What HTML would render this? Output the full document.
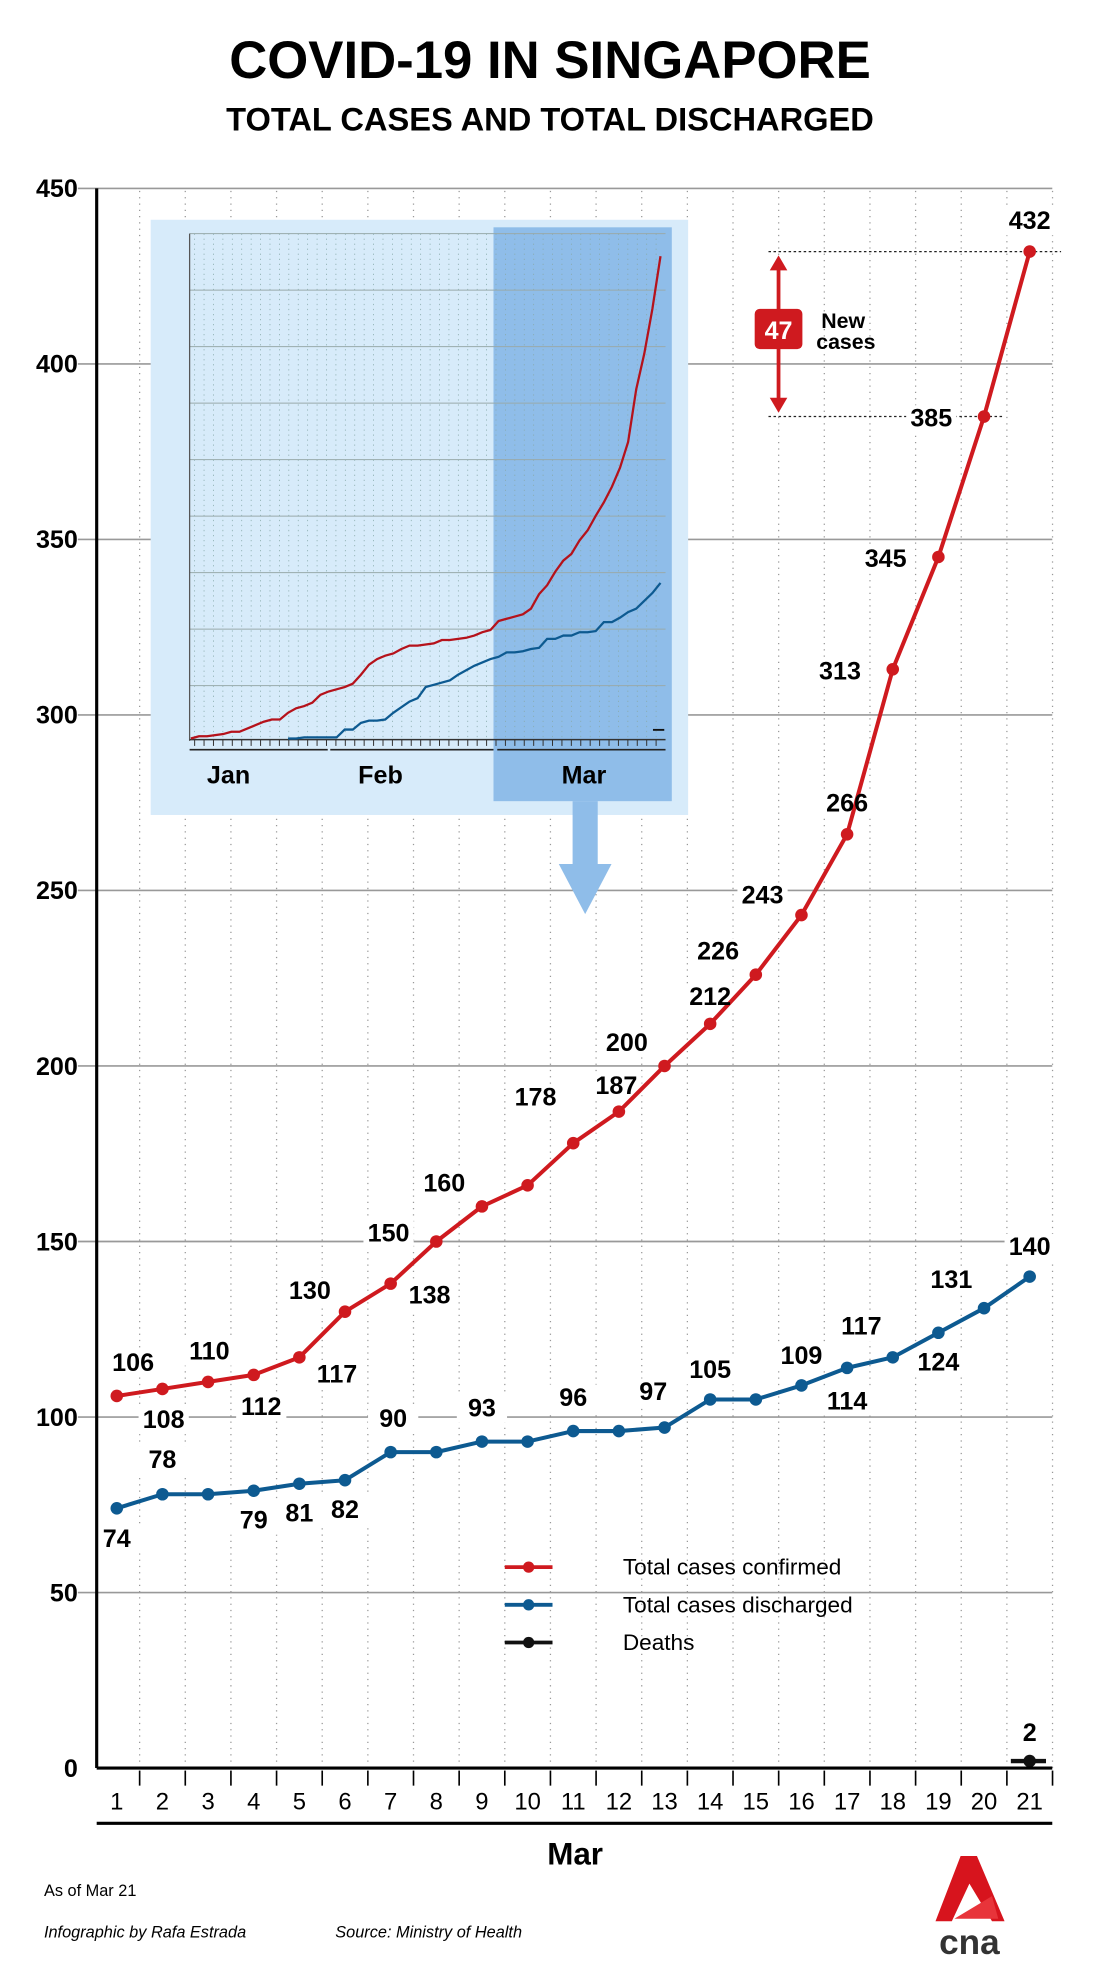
<!DOCTYPE html>
<html><head><meta charset="utf-8"><style>
html,body{margin:0;padding:0;background:#fff;}
svg{display:block;font-family:"Liberation Sans",sans-serif;}
</style></head><body>
<svg id="chart" width="1100" height="1969" viewBox="0 0 876 1568" xmlns="http://www.w3.org/2000/svg">
<text x="438" y="62" text-anchor="middle" font-size="42" font-weight="bold">COVID-19 IN SINGAPORE</text>
<text x="438" y="104" text-anchor="middle" font-size="26" font-weight="bold">TOTAL CASES AND TOTAL DISCHARGED</text>
<g id="grid"></g>
<g id="inset"></g>
<g id="annot"></g>
<g id="labelbg"></g>
<g id="series"></g>
<g id="labels"></g>
<g id="axes"></g>
<g id="legend"></g>
<text x="458" y="1485" text-anchor="middle" font-size="25" font-weight="bold">Mar</text>
<text x="35" y="1510" font-size="13">As of Mar 21</text>
<text x="35" y="1543" font-size="13" font-style="italic">Infographic by Rafa Estrada</text>
<text x="267" y="1543" font-size="13" font-style="italic">Source: Ministry of Health</text>
<g>
<polygon points="765,1478 778,1478 800,1530 790,1530 772,1500 758,1530 745,1530" fill="#d7141d"/>
<polygon points="760,1528 790,1510 795,1528" fill="#e8343a"/>
<text x="772" y="1556" text-anchor="middle" font-size="28" font-weight="bold" fill="#333">cna</text>
</g>
</svg>
<script>
const days = [1,2,3,4,5,6,7,8,9,10,11,12,13,14,15,16,17,18,19,20,21];
const totalCases = [106,108,110,112,117,130,138,150,160,166,178,187,200,212,226,243,266,313,345,385,432];
const discharged = [74,78,78,79,81,82,90,90,93,93,96,96,97,105,105,109,114,117,124,131,140];
const deathsDay = [21];
const deaths = [2];
const yTicks = [0,50,100,150,200,250,300,350,400,450];
// inset: daily totals Jan 23 - Mar 21
const insetCases = [1,3,3,4,5,7,7,10,13,16,18,18,24,28,30,33,40,43,45,47,50,58,67,72,75,77,81,84,84,85,86,89,89,90,91,93,96,98,106,108,110,112,117,130,138,150,160,166,178,187,200,212,226,243,266,313,345,385,432];
const insetDischargedStart = 12;
const insetDischarged = [1,1,2,2,2,2,2,9,9,15,17,17,18,24,29,34,37,47,49,51,53,58,62,66,69,72,74,78,78,79,81,82,90,90,93,93,96,96,97,105,105,109,114,117,124,131,140];
// label offsets (dx,dy) relative to point; null = no label
const caseLabelDX = [13,1,1,6,30,-28,31,-38,-30,null,-30,-2,-30,0,-30,-31,0,-42,-42,-42,0];
const caseLabelDY = [-20,31,-18,32,20,-10,16,0,-12,null,-30,-14,-12,-15,-12,-9,-18,8,8,8,-18];
const disLabelDX = [0,0,null,0,0,0,2,null,0,null,0,null,-9,0,null,0,0,-25,0,-26,0];
const disLabelDY = [31,-21,null,30,30,30,-20,null,-20,null,-20,null,-22,-17,null,-17,33,-18,30,-16,-17];

const NS='http://www.w3.org/2000/svg';
const RED='#cf1a1f', BLUE='#0d5a91';
function mk(parent,tag,attrs,text){const e=document.createElementNS(NS,tag);for(const k in attrs)e.setAttribute(k,attrs[k]);if(text!==undefined)e.textContent=text;parent.appendChild(e);return e;}
const X0=77,X1=838,Y0=1408,YT=150;
const x=d=>93+(d-1)*36.35;
const y=v=>Y0-v*(Y0-YT)/450;
const grid=document.getElementById('grid');
days.forEach(d=>{const l=mk(grid,'line',{x1:x(d)+18.2,x2:x(d)+18.2,y1:152,y2:Y0,stroke:'#999','stroke-width':1,'stroke-dasharray':'1,4'});

});
yTicks.forEach(t=>{if(t>0){const l=mk(grid,'line',{x1:62,x2:X1,y1:y(t),y2:y(t),stroke:'#999','stroke-width':1.3});

}
const tx=mk(grid,'text',{x:62,y:y(t)+7,'text-anchor':'end','font-size':20,'font-weight':'bold'},t);

});

// inset
const inset=document.getElementById('inset');
mk(inset,'rect',{x:120,y:175,width:428,height:474,fill:'#d7ebfa'});
mk(inset,'rect',{x:393,y:181,width:142,height:457,fill:'#8fbde9'});
mk(inset,'rect',{x:456,y:638,width:20,height:52,fill:'#8fbde9'});
mk(inset,'polygon',{points:'445,688 487,688 466,728',fill:'#8fbde9'});
const IX0=152,IX1=526,IY0=589,IYT=204;
const ix=i=>IX0+i*(IX1-IX0)/(insetCases.length-1);
const iy=v=>IY0-v*(IY0-IYT)/432;
for(let i=0;i<9;i++){mk(inset,'line',{x1:151,x2:530,y1:186+i*45,y2:186+i*45,stroke:'#9aa','stroke-width':0.8});}
for(let xx=155;xx<530;xx+=7.5){mk(inset,'line',{x1:xx,x2:xx,y1:186,y2:589,stroke:'#8aa','stroke-width':0.6,'stroke-dasharray':'1,3'});
mk(inset,'line',{x1:xx,x2:xx,y1:589,y2:594,stroke:'#333','stroke-width':0.8});}
mk(inset,'line',{x1:151,x2:151,y1:186,y2:590,stroke:'#555','stroke-width':1});
mk(inset,'line',{x1:151,x2:530,y1:589,y2:589,stroke:'#333','stroke-width':1.2});
[[151,261],[263,393],[396,530]].forEach(s=>mk(inset,'line',{x1:s[0],x2:s[1],y1:597,y2:597,stroke:'#222','stroke-width':1.3}));
[['Jan',182],['Feb',303],['Mar',465]].forEach(m=>{const t=mk(inset,'text',{x:m[1],y:624,'text-anchor':'middle','font-size':20,'font-weight':'bold'},m[0]);

});
const ic=mk(inset,'polyline',{points:insetCases.map((v,i)=>ix(i)+','+iy(v)).join(' '),fill:'none',stroke:'#b5121b','stroke-width':1.8});


const idl=mk(inset,'polyline',{points:insetDischarged.map((v,i)=>ix(i+insetDischargedStart)+','+iy(v)).join(' '),fill:'none',stroke:'#0d5a91','stroke-width':1.8});


mk(inset,'line',{x1:520,x2:529,y1:iy(deaths[0])-6,y2:iy(deaths[0])-6,stroke:'#111','stroke-width':1.5});

// annotation
const an=document.getElementById('annot');
const ya=y(432),yb=y(385);
mk(an,'line',{x1:612,x2:845,y1:ya,y2:ya,stroke:'#222','stroke-width':1,'stroke-dasharray':'2,2'});
mk(an,'line',{x1:612,x2:800,y1:yb,y2:yb,stroke:'#222','stroke-width':1,'stroke-dasharray':'2,2'});
mk(an,'line',{x1:620,x2:620,y1:ya+8,y2:yb-8,stroke:RED,'stroke-width':3});
mk(an,'polygon',{points:`620,${ya+3} 613,${ya+15} 627,${ya+15}`,fill:RED});
mk(an,'polygon',{points:`620,${yb-3} 613,${yb-15} 627,${yb-15}`,fill:RED});
mk(an,'rect',{x:601,y:246,width:38,height:32,rx:4,fill:RED});
mk(an,'text',{x:620,y:270,'text-anchor':'middle','font-size':20,'font-weight':'bold',fill:'#fff'},432-385);
mk(an,'text',{x:654,y:261,'font-size':17,'font-weight':'bold'},'New');
mk(an,'text',{x:650,y:278,'font-size':17,'font-weight':'bold'},'cases');

// series
const ser=document.getElementById('series');
function series(vals,color,name){const p=mk(ser,'polyline',{points:vals.map((v,i)=>x(days[i])+','+y(v)).join(' '),fill:'none',stroke:color,'stroke-width':3.2,'stroke-linejoin':'round'});


vals.forEach((v,i)=>{const c=mk(ser,'circle',{cx:x(days[i]),cy:y(v),r:5,fill:color});

});}
series(totalCases,RED,'total-cases');
series(discharged,BLUE,'discharged');
deaths.forEach((v,i)=>{const dx=x(deathsDay[i]);
const l=mk(ser,'line',{x1:dx-15,x2:dx+13,y1:y(v),y2:y(v),stroke:'#111','stroke-width':3.5});


const c=mk(ser,'circle',{cx:dx,cy:y(v),r:5,fill:'#111'});


const t=mk(ser,'text',{x:dx,y:y(v)-16,'text-anchor':'middle','font-size':20,'font-weight':'bold'},v);

});

// labels
const lab=document.getElementById('labels');
const lbg=document.getElementById('labelbg');
function labels(vals,DX,DY,name){vals.forEach((v,i)=>{if(DX[i]===null)return;
const cx=x(days[i])+DX[i],cy=y(v)+DY[i];
mk(lbg,'rect',{x:cx-20,y:cy-17,width:40,height:22,fill:'#fff'});
const t=mk(lab,'text',{x:cx,y:cy,'text-anchor':'middle','font-size':20,'font-weight':'bold'},v);

});}
labels(totalCases,caseLabelDX,caseLabelDY,'total-cases');
labels(discharged,disLabelDX,disLabelDY,'discharged');

// axes
const ax=document.getElementById('axes');
const ya1=mk(ax,'line',{x1:X0,x2:X0,y1:150,y2:Y0,stroke:'#000','stroke-width':2.5});


const xa=mk(ax,'line',{x1:X0,x2:X1,y1:Y0,y2:Y0,stroke:'#000','stroke-width':2.5});


mk(ax,'line',{x1:X0,x2:X1,y1:1452,y2:1452,stroke:'#000','stroke-width':2.5});
days.forEach(d=>{mk(ax,'line',{x1:x(d)+18.2,x2:x(d)+18.2,y1:1410,y2:1422,stroke:'#000','stroke-width':1.3});
const t=mk(ax,'text',{x:x(d),y:1441,'text-anchor':'middle','font-size':19},d);

});

// legend
const lg=document.getElementById('legend');
[['Total cases confirmed',RED],['Total cases discharged',BLUE],['Deaths','#111']].forEach((e,i)=>{const yy=1248+i*30;
const g=mk(lg,'g',{});


mk(g,'line',{x1:402,x2:440,y1:yy,y2:yy,stroke:e[1],'stroke-width':3});
mk(g,'circle',{cx:421,cy:yy,r:4.5,fill:e[1]});
mk(g,'text',{x:496,y:yy+6,'font-size':18},e[0]);});
</script>
</body></html>
